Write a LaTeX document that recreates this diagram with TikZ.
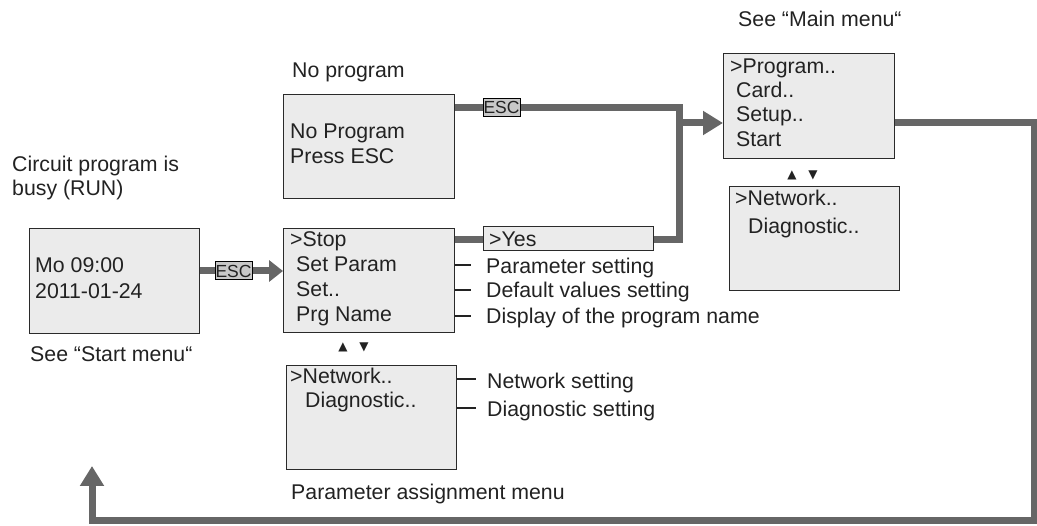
\documentclass[tikz,border=0pt]{standalone}
\usepackage{fontspec}
\setmainfont{Liberation Sans}
\newfontfamily\symfont{DejaVu Sans}
\usetikzlibrary{arrows.meta}
\definecolor{boxfill}{HTML}{EBEBEB}
\definecolor{flow}{HTML}{666666}
\definecolor{escfill}{HTML}{C8C8C8}
\definecolor{edge}{HTML}{2A2A2A}
\definecolor{ink}{HTML}{222222}
\begin{document}
\begin{tikzpicture}[x=1pt,y=-1pt,
  screen/.style={draw=edge, line width=1.3pt, fill=boxfill, anchor=north west, inner sep=0pt},
  txt/.style={anchor=base west, inner sep=0pt, text=ink, font=\fontsize{21.3}{24}\selectfont},
  tri/.style={inner sep=0pt, text=ink, font=\symfont\fontsize{12}{12}\selectfont},
  flowline/.style={draw=flow, line width=7pt},
  flowarrow/.style={flowline, -{Triangle[length=20pt,width=23pt]}},
  smallarrow/.style={flowline, -{Triangle[length=14pt,width=21pt]}},
  esc/.style={draw=black, line width=1pt, fill=escfill, inner sep=0pt, minimum width=37pt, minimum height=18pt, text=ink, font=\fontsize{17.5}{17}\selectfont},
  tick/.style={draw=ink, line width=1.8pt}]
\useasboundingbox (0,0) rectangle (1037,526);

% screens
\node[screen, minimum width=170pt, minimum height=105pt] (run) at (29,228) {};
\node[screen, minimum width=171pt, minimum height=104pt] (nop) at (283,94) {};
\node[screen, minimum width=171pt, minimum height=104pt] (stop) at (283,228) {};
\node[screen, minimum width=170pt, minimum height=24pt] (yes) at (483,226) {};
\node[screen, minimum width=170pt, minimum height=104pt] (pnet) at (286,365) {};
\node[screen, minimum width=171pt, minimum height=105pt] (main) at (723,53) {};
\node[screen, minimum width=170pt, minimum height=104pt] (mnet) at (729,186) {};

% captions
\node[txt] (c1) at (12,172) {Circuit program is};
\node[txt] (c2) at (12,196) {busy (RUN)};
\node[txt] (c3) at (30,362) {See “Start menu“};
\node[txt] (c4) at (292,78) {No program};
\node[txt] (c5) at (738,27) {See “Main menu“};
\node[txt] (c6) at (291,500) {Parameter assignment menu};

% screen texts
\node[txt] (r1) at (35,273) {Mo 09:00};
\node[txt] (r2) at (35,299) {2011-01-24};
\node[txt] (n1) at (290,139) {No Program};
\node[txt] (n2) at (290,164) {Press ESC};
\node[txt] (s1) at (290,247) {>Stop};
\node[txt] (s2) at (296,272) {Set Param};
\node[txt] (s3) at (296,297) {Set..};
\node[txt] (s4) at (296,322) {Prg Name};
\node[txt] (y1) at (489,247) {>Yes};
\node[txt] (p1) at (290,384) {>Network..};
\node[txt] (p2) at (305,408) {Diagnostic..};
\node[txt] (m1) at (730,74) {>Program..};
\node[txt] (m2) at (736,98) {Card..};
\node[txt] (m3) at (736,122) {Setup..};
\node[txt] (m4) at (736,147) {Start};
\node[txt] (q1) at (735,206) {>Network..};
\node[txt] (q2) at (748,234) {Diagnostic..};

% scroll marks
\node[tri] (u1) at (343,347) {▲};
\node[tri] (d1) at (364,347) {▼};
\node[tri] (u2) at (792,175) {▲};
\node[tri] (d2) at (813,175) {▼};

% setting labels
\node[txt] (l1) at (486,274) {Parameter setting};
\node[txt] (l2) at (486,298) {Default values setting};
\node[txt] (l3) at (486,324) {Display of the program name};
\node[txt] (l4) at (487,389) {Network setting};
\node[txt] (l5) at (487,417) {Diagnostic setting};
\draw[tick] (stop.east |- 0,265) -- ++(16,0);
\draw[tick] (stop.east |- 0,290) -- ++(16,0);
\draw[tick] (stop.east |- 0,316) -- ++(16,0);
\draw[tick] (pnet.east |- 0,379) -- ++(19,0);
\draw[tick] (pnet.east |- 0,408) -- ++(19,0);

% flow connectors
\coordinate (j1) at (679,108);
\coordinate (j2) at (679,240);
\coordinate (j3) at (679,123);
\coordinate (k1) at (1034,123);
\coordinate (k2) at (1034,521);
\coordinate (k3) at (92,521);
\coordinate (k4) at (92,466);
\coordinate (escLc) at (233.5,271);
\coordinate (escTc) at (501.5,107.5);

\draw[smallarrow] (run.east |- escLc) -- (stop.west |- escLc);
\draw[flowline] (nop.east |- j1) -- (j1) -- (j2) -- (yes.east |- j2);
\draw[flowline] (stop.east |- j2) -- (yes.west |- j2);
\draw[flowarrow] (j3) -- (main.west |- j3);
\draw[flowarrow] (main.east |- k1) -- (k1) -- (k2) -- (k3) -- (k4);

\node[esc] (escL) at (escLc) {ESC};
\node[esc] (escT) at (escTc) {ESC};
\end{tikzpicture}
\end{document}
